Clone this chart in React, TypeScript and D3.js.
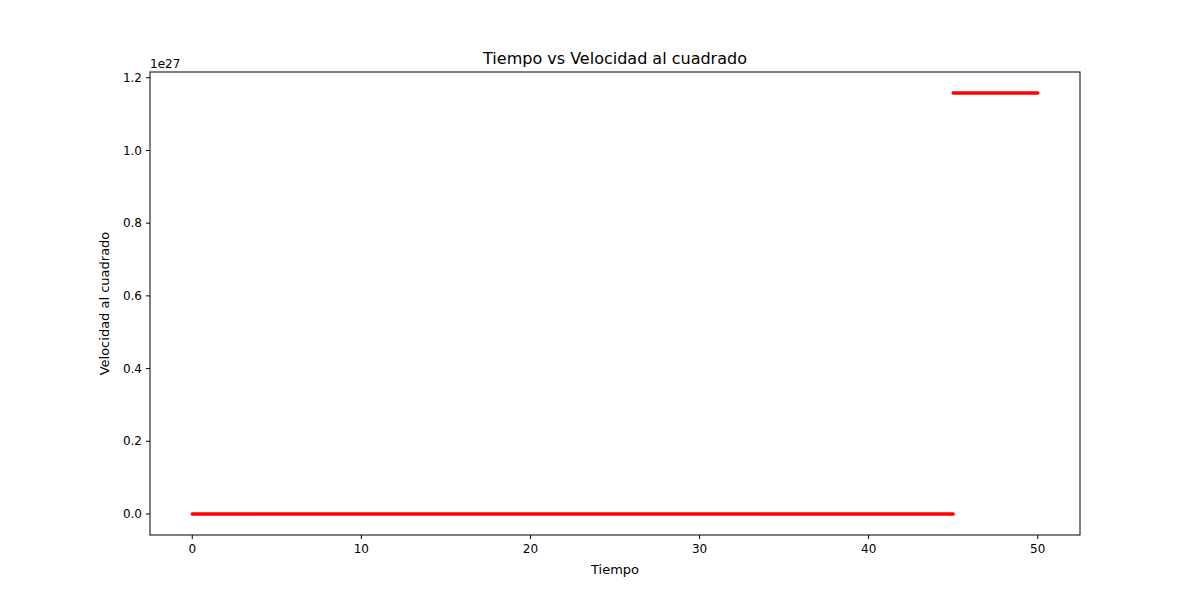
import * as d3 from 'd3'

// two runs of samples: before and after the jump at t = 45
const lowTimes = [0, 45]
const lowValues = [0, 0]
const highTimes = [45, 50]
const highValues = [1.158e27, 1.158e27]
const xTicks = [0, 10, 20, 30, 40, 50]
const yTicks = [0, 0.2, 0.4, 0.6, 0.8, 1.0, 1.2]

const width = 1200
const height = 600
const margin = { left: 150, right: 120, top: 72, bottom: 65 }

export default function App() {
  const x = d3.scaleLinear().domain([-2.5, 52.5]).range([margin.left, width - margin.right])
  const y = d3
    .scaleLinear()
    .domain([-0.0579e27, 1.2159e27])
    .range([height - margin.bottom, margin.top])

  const line = d3
    .line<[number, number]>()
    .x((d) => x(d[0]))
    .y((d) => y(d[1]))

  const runs = [
    lowTimes.map((t, i) => [t, lowValues[i]] as [number, number]),
    highTimes.map((t, i) => [t, highValues[i]] as [number, number]),
  ]
  const font = 'DejaVu Sans, sans-serif'

  return (
    <svg
      width={width}
      height={height}
      style={{ position: 'absolute', left: 0, top: 0, background: '#fff' }}
      fontFamily={font}
    >
      <text x={(margin.left + width - margin.right) / 2} y={64} textAnchor="middle" fontSize={16}>
        Tiempo vs Velocidad al cuadrado
      </text>
      {runs.map((r, i) => (
        <path
          key={i}
          d={line(r) ?? ''}
          fill="none"
          stroke="red"
          strokeWidth={3.5}
          strokeLinecap="round"
        />
      ))}
      <rect
        x={margin.left}
        y={margin.top}
        width={width - margin.left - margin.right}
        height={height - margin.top - margin.bottom}
        fill="none"
        stroke="#000"
        strokeWidth={1}
      />
      {xTicks.map((t) => (
        <g key={t} transform={`translate(${x(t)},${height - margin.bottom})`}>
          <line y2={4} stroke="#000" />
          <text y={18} textAnchor="middle" fontSize={12}>
            {t}
          </text>
        </g>
      ))}
      {yTicks.map((t) => (
        <g key={t} transform={`translate(${margin.left},${y(t * 1e27)})`}>
          <line x2={-4} stroke="#000" />
          <text x={-8} dy="0.35em" textAnchor="end" fontSize={12}>
            {t.toFixed(1)}
          </text>
        </g>
      ))}
      <text x={margin.left} y={68} fontSize={12}>
        1e27
      </text>
      <text x={(margin.left + width - margin.right) / 2} y={574} textAnchor="middle" fontSize={13}>
        Tiempo
      </text>
      <text
        transform={`translate(109,${(margin.top + height - margin.bottom) / 2}) rotate(-90)`}
        textAnchor="middle"
        fontSize={13}
      >
        Velocidad al cuadrado
      </text>
    </svg>
  )
}
